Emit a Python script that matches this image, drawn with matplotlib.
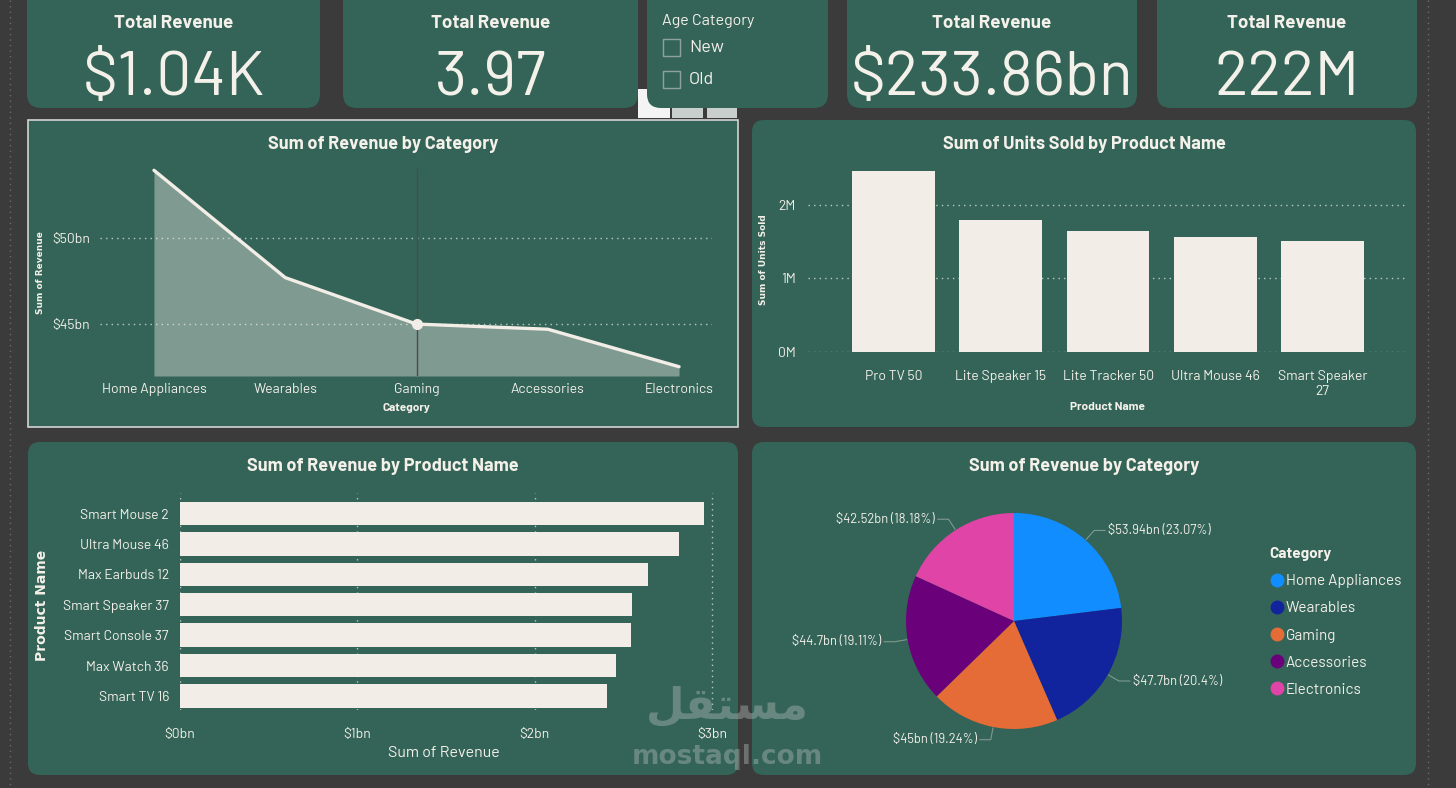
import matplotlib
matplotlib.use('Agg')
import matplotlib.pyplot as plt
from matplotlib import font_manager as fm
from matplotlib.patches import FancyBboxPatch, Rectangle
from matplotlib.lines import Line2D
import numpy as np

# ---- dane ----
kpi_titles = ['Total Revenue', 'Total Revenue', 'Total Revenue', 'Total Revenue']
kpi_values = ['$1.04K', '3.97', '$233.86bn', '222M']
slicer_title = 'Age Category'
age_options = ['New', 'Old']

categories = ['Home Appliances', 'Wearables', 'Gaming', 'Accessories', 'Electronics']
cat_revenue_bn = [53.94, 47.70, 45.00, 44.70, 42.52]

unit_products = ['Pro TV 50', 'Lite Speaker 15', 'Lite Tracker 50', 'Ultra Mouse 46', 'Smart Speaker\n27']
units_sold_m = [2.46, 1.79, 1.65, 1.57, 1.51]

rev_products = ['Smart Mouse 2', 'Ultra Mouse 46', 'Max Earbuds 12', 'Smart Speaker 37',
                'Smart Console 37', 'Max Watch 36', 'Smart TV 16']
product_revenue_bn = [2.955, 2.815, 2.64, 2.55, 2.545, 2.46, 2.41]

pie_colors = ['#118DFF', '#12239E', '#E66C37', '#6B007B', '#E044A7']

# ---- style ----
BG = '#3b3b3b'
GREEN = '#336457'
CREAM = '#f2ede7'
TXT = '#f4f0ea'
GRID = '#b9cbc4'

# czcionka podobna do DIN, jeśli jest zainstalowana
avail = {f.name for f in fm.fontManager.ttflist}
din = [n for n in ['Barlow', 'Barlow Semi Condensed', 'Roboto Condensed'] if n in avail]
DIN = din[:1] + ['DejaVu Sans']
WIDE = ['DejaVu Sans']

W, H = 1456, 788
fig = plt.figure(figsize=(W / 100, H / 100), dpi=100)
fig.patch.set_facecolor(BG)

# tło w pikselach (y w dół)
bg = fig.add_axes([0, 0, 1, 1])
bg.set_xlim(0, W)
bg.set_ylim(H, 0)
bg.axis('off')


def panel(x0, y0, x1, y1, r=12, color=GREEN):
    bg.add_patch(FancyBboxPatch((x0, y0), x1 - x0, y1 - y0,
                                boxstyle=f'round,pad=0,rounding_size={r}',
                                fc=color, ec='none'))


def add_ax(x0, y0, x1, y1):
    ax = fig.add_axes([x0 / W, 1 - y1 / H, (x1 - x0) / W, (y1 - y0) / H])
    ax.set_facecolor('none')
    for s in ax.spines.values():
        s.set_visible(False)
    ax.tick_params(length=0, colors=TXT)
    return ax


# linie kropkowane brzegu strony
bg.plot([10, 10], [0, H], color='#6a6a6a', lw=1, ls=(0, (1, 3)))
bg.plot([1428, 1428], [0, H], color='#6a6a6a', lw=1, ls=(0, (1, 3)))

# ---- karty KPI ----
cards = [(27, 320), (343, 638), (847, 1137), (1157, 1417)]
for (x0, x1), t, v in zip(cards, kpi_titles, kpi_values):
    panel(x0, -14, x1, 108, r=14)
    cx = (x0 + x1) / 2
    bg.text(cx, 28, t, ha='center', va='baseline', color=TXT, fontsize=13.5,
            fontweight='bold', family=DIN)
    bg.text(cx, 95, v, ha='center', va='baseline', color=TXT, fontsize=45, family=DIN)

# ikonki nagłówka pod slicerem
bg.add_patch(Rectangle((638, 89), 32, 29, fc='#f4f4f4', ec='none'))
bg.add_patch(Rectangle((672, 108), 31, 10, fc='#c9cfcc', ec='none'))
bg.add_patch(Rectangle((707, 108), 30, 10, fc='#c9cfcc', ec='none'))

# slicer
panel(647, -14, 828, 108, r=14)
bg.text(662, 21, slicer_title, ha='left', va='center', color=TXT, fontsize=11.5, family=DIN)
for i, opt in enumerate(age_options):
    yy = 47 + i * 32
    bg.add_patch(Rectangle((663, yy - 8), 17, 17, fc='none', ec='#8fa39b', lw=1))
    bg.text(689, yy, opt, ha='left', va='center', color=TXT, fontsize=13, family=DIN)

# ---- panele wykresów ----
bg.add_patch(Rectangle((28, 120), 710, 307, fc=GREEN, ec='#d4d4d4', lw=1.2))
panel(752, 120, 1416, 427)
panel(28, 442, 738, 775)
panel(752, 442, 1416, 775)

titles = [(383, 144, 'Sum of Revenue by Category'),
          (1084, 144, 'Sum of Units Sold by Product Name'),
          (383, 466, 'Sum of Revenue by Product Name'),
          (1084, 466, 'Sum of Revenue by Category')]
for x, y, t in titles:
    bg.text(x, y, t, ha='center', va='center', color=TXT, fontsize=13,
            fontweight='bold', family=DIN)

# ---- wykres warstwowy ----
ax1 = add_ax(100, 160, 712, 376)
xs = np.arange(len(categories))
ax1.fill_between(xs, cat_revenue_bn, 41.98, color=CREAM, alpha=0.4, lw=0)
ax1.plot(xs, cat_revenue_bn, color=CREAM, lw=2.4, solid_capstyle='round', zorder=3)
ax1.axvline(2, ymin=0, ymax=0.96, color='#4b4b4b', lw=1, zorder=2)
ax1.plot(xs[2], cat_revenue_bn[2], 'o', ms=7, color=CREAM, zorder=4)
ax1.set_xlim(-0.411, 4.251)
ax1.set_ylim(41.98, 41.98 + 216 / 17.2)
ax1.set_yticks([45, 50])
ax1.set_yticklabels(['$45bn', '$50bn'], family=DIN, fontsize=10)
ax1.set_xticks(xs)
ax1.set_xticklabels(categories, family=DIN, fontsize=10)
ax1.tick_params(axis='x', pad=5)
ax1.tick_params(axis='y', pad=7)
ax1.grid(axis='y', color=GRID, ls=(0, (1, 3)), lw=1)
ax1.set_axisbelow(True)
ax1.set_xlabel('Category', color=TXT, family=DIN, fontsize=8.5, fontweight='bold', labelpad=5)
ax1.set_ylabel('Sum of Revenue', color=TXT, family=WIDE, fontsize=6.5, fontweight='bold')
ax1.yaxis.set_label_coords(-0.09, 0.48)

# ---- słupki: jednostki ----
ax2 = add_ax(808, 160, 1407, 352)
xs2 = np.arange(len(unit_products))
ax2.bar(xs2, units_sold_m, width=0.77, color=CREAM, zorder=3)
ax2.set_xlim(-0.797, 4.786)
ax2.set_ylim(0, 2.61)
ax2.set_yticks([0, 1, 2])
ax2.set_yticklabels(['0M', '1M', '2M'], family=DIN, fontsize=10)
ax2.set_xticks(xs2)
ax2.set_xticklabels(unit_products, family=DIN, fontsize=10, linespacing=1.15, va='top')
ax2.tick_params(axis='x', pad=13)
ax2.tick_params(axis='y', pad=9)
ax2.grid(axis='y', color=GRID, ls=(0, (1, 3)), lw=1)
ax2.set_axisbelow(True)
ax2.set_xlabel('Product Name', color=TXT, family=DIN, fontsize=8.5, fontweight='bold')
ax2.xaxis.set_label_coords(0.5, -0.26)
ax2.set_ylabel('Sum of Units Sold', color=TXT, family=WIDE, fontsize=6.5, fontweight='bold')
ax2.yaxis.set_label_coords(-0.067, 0.48)

# ---- słupki poziome ----
ax3 = add_ax(180, 493, 715, 710)
ys3 = np.arange(len(rev_products))
ax3.barh(ys3, product_revenue_bn, height=0.77, color=CREAM, zorder=3)
ax3.set_xlim(0, 3.017)
ax3.set_ylim(6.46, -0.674)
ax3.set_xticks([0, 1, 2, 3])
ax3.set_xticklabels(['$0bn', '$1bn', '$2bn', '$3bn'], family=DIN, fontsize=10)
ax3.set_yticks(ys3)
ax3.set_yticklabels(rev_products, family=DIN, fontsize=10)
ax3.tick_params(axis='x', pad=13)
ax3.tick_params(axis='y', pad=8)
ax3.grid(axis='x', color=GRID, ls=(0, (1, 3)), lw=1)
ax3.set_axisbelow(True)
ax3.set_xlabel('Sum of Revenue', color=TXT, family=DIN, fontsize=11.5)
ax3.xaxis.set_label_coords(0.493, -0.166)
ax3.set_ylabel('Product Name', color=TXT, family=WIDE, fontsize=10, fontweight='bold')
ax3.yaxis.set_label_coords(-0.245, 0.48)

# ---- wykres kołowy ----
ax4 = add_ax(906, 513, 1122, 729)
wedges, _ = ax4.pie(cat_revenue_bn, colors=pie_colors, startangle=90, counterclock=False,
                    radius=1, wedgeprops=dict(lw=0))
ax4.set_xlim(-1, 1)
ax4.set_ylim(-1, 1)
total = sum(cat_revenue_bn)


def fmt(v):
    return f'{v:.2f}'.rstrip('0').rstrip('.')


for w, v in zip(wedges, cat_revenue_bn):
    ang = np.deg2rad((w.theta1 + w.theta2) / 2)
    c, s = np.cos(ang), np.sin(ang)
    side = 1 if c >= 0 else -1
    ex, ey = 1.01 * c, 1.01 * s
    kx, ky = 1.12 * c, 1.12 * s
    tx = kx + side * 0.1
    ax4.plot([ex, kx, tx], [ey, ky, ky], color='#7f9990', lw=0.8, clip_on=False)
    ax4.text(tx + side * 0.03, ky, f'${fmt(v)}bn ({fmt(v / total * 100)}%)',
             ha='left' if side > 0 else 'right', va='center', color=TXT,
             fontsize=9.3, family=DIN, clip_on=False)

handles = [Line2D([], [], marker='o', ls='none', ms=9, mfc=c, mec=c) for c in pie_colors]
leg = ax4.legend(handles, categories, title='Category', loc='upper left',
                 bbox_to_anchor=(1263 / W, 1 - 541 / H), bbox_transform=fig.transFigure,
                 frameon=False, alignment='left', handletextpad=0.1, handlelength=1.0,
                 labelspacing=0.86, borderaxespad=0,
                 prop={'family': DIN, 'size': 11},
                 title_fontproperties={'family': DIN, 'size': 11, 'weight': 'bold'})
for t in leg.get_texts():
    t.set_color(TXT)
leg.get_title().set_color(TXT)

# znak wodny
bg.text(727, 706, '\ufede\ufed8\ufe98\ufeb4\ufee3', ha='center', va='center', fontsize=32,
        fontweight='bold', family=['DejaVu Sans'], color='#a9b3af', alpha=0.45)
bg.text(727, 757, 'mostaql.com', ha='center', va='center', fontsize=19,
        fontweight='bold', family=['DejaVu Sans'], color='#a9b3af', alpha=0.45)

fig.savefig('out.png', dpi=100, facecolor=BG)
